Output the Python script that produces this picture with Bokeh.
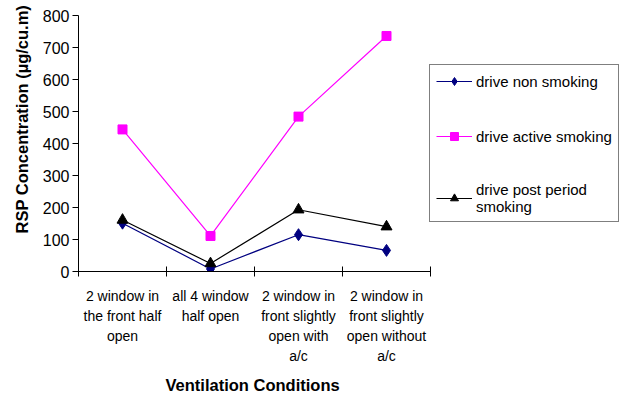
from bokeh.plotting import figure
from bokeh.models import Range1d, FixedTicker, Legend, LegendItem, Title
from bokeh.embed import file_html
from bokeh.resources import INLINE

categories = ["2 window in\nthe front half\nopen",
              "all 4 window\nhalf open",
              "2 window in\nfront slightly\nopen with\na/c",
              "2 window in\nfront slightly\nopen without\na/c"]
non_smoking = [151, 8, 115, 66]
active_smoking = [444, 111, 484, 736]
post_smoking = [161, 25, 193, 140]
y_ticks = [0, 100, 200, 300, 400, 500, 600, 700, 800]

FONT = "Liberation Sans"
n = len(categories)
xs = [i + 0.5 for i in range(n)]

# plot frame spans to the window's right edge so the legend can sit beside the axes
LEFT, AXIS_RIGHT, WIDTH = 78, 430, 621
x_end = n * (WIDTH - LEFT) / (AXIS_RIGHT - LEFT)

p = figure(width=WIDTH, height=401, output_backend="svg", toolbar_location=None,
           x_range=Range1d(0, x_end), y_range=Range1d(0, 800),
           min_border_left=LEFT, min_border_right=0, min_border_top=15,
           min_border_bottom=130)
p.outline_line_color = None
p.grid.visible = False
p.background_fill_color = "white"
p.border_fill_color = "white"

p.xaxis.bounds = (0, n)
p.xaxis.ticker = FixedTicker(ticks=xs, minor_ticks=list(range(n + 1)))
p.xaxis.major_label_overrides = {x: c for x, c in zip(xs, categories)}
p.xaxis.major_tick_in = 0
p.xaxis.major_tick_out = 0
p.xaxis.minor_tick_in = 5
p.xaxis.minor_tick_out = 5
p.xaxis.minor_tick_line_color = "black"
p.xaxis.major_label_text_font = FONT
p.xaxis.major_label_text_font_size = "14px"
p.xaxis.major_label_text_line_height = 1.25
p.xaxis.major_label_standoff = 11

p.yaxis.ticker = FixedTicker(ticks=y_ticks, minor_ticks=[])
p.yaxis.major_tick_in = 0
p.yaxis.major_tick_out = 6
p.yaxis.major_label_text_font = FONT
p.yaxis.major_label_text_font_size = "16px"
p.yaxis.major_label_standoff = 3
for ax in (p.xaxis, p.yaxis):
    ax.axis_line_color = "black"
    ax.major_tick_line_color = "black"
    ax.major_label_text_color = "black"

# x-axis title, centred under the category axis (not under the whole frame)
xtitle = Title(text="Ventilation Conditions", align="left", offset=87,
               text_font=FONT, text_font_size="16.5px", text_font_style="bold",
               text_color="black", standoff=15)
p.add_layout(xtitle, "below")

# y-axis title (sits a little above the axis centre, as in the original)
ytitle = Title(text="RSP Concentration (µg/cu.m)", align="left", offset=38,
               text_font=FONT, text_font_size="16.5px", text_font_style="bold",
               text_color="black", standoff=17)
p.add_layout(ytitle, "left")

l1 = p.line(xs, non_smoking, line_color="#000080", line_width=1.2)
m1 = p.scatter(xs, non_smoking, marker="diamond", size=12, fill_color="#000080", line_color="#000080")
l2 = p.line(xs, active_smoking, line_color="#FF00FF", line_width=1.2)
m2 = p.scatter(xs, active_smoking, marker="square", size=9, fill_color="#FF00FF", line_color="#FF00FF")
l3 = p.line(xs, post_smoking, line_color="black", line_width=1.2)
m3 = p.scatter(xs, post_smoking, marker="triangle", size=11, fill_color="black", line_color="black")

legend = Legend(items=[
    LegendItem(label="drive non smoking", renderers=[l1, m1]),
    LegendItem(label="drive active smoking", renderers=[l2, m2]),
    LegendItem(label="drive post period\nsmoking", renderers=[l3, m3]),
], location=(AXIS_RIGHT - LEFT - 1, 49))
legend.label_text_font = FONT
legend.label_text_font_size = "15px"
legend.label_text_color = "black"
legend.border_line_color = "black"
legend.border_line_width = 1
legend.background_fill_alpha = 1
legend.glyph_width = 36
legend.label_standoff = 4
legend.spacing = 35
legend.padding = 6
legend.margin = 0
p.add_layout(legend, "center")

open("out.html", "w").write(file_html(p, INLINE))
